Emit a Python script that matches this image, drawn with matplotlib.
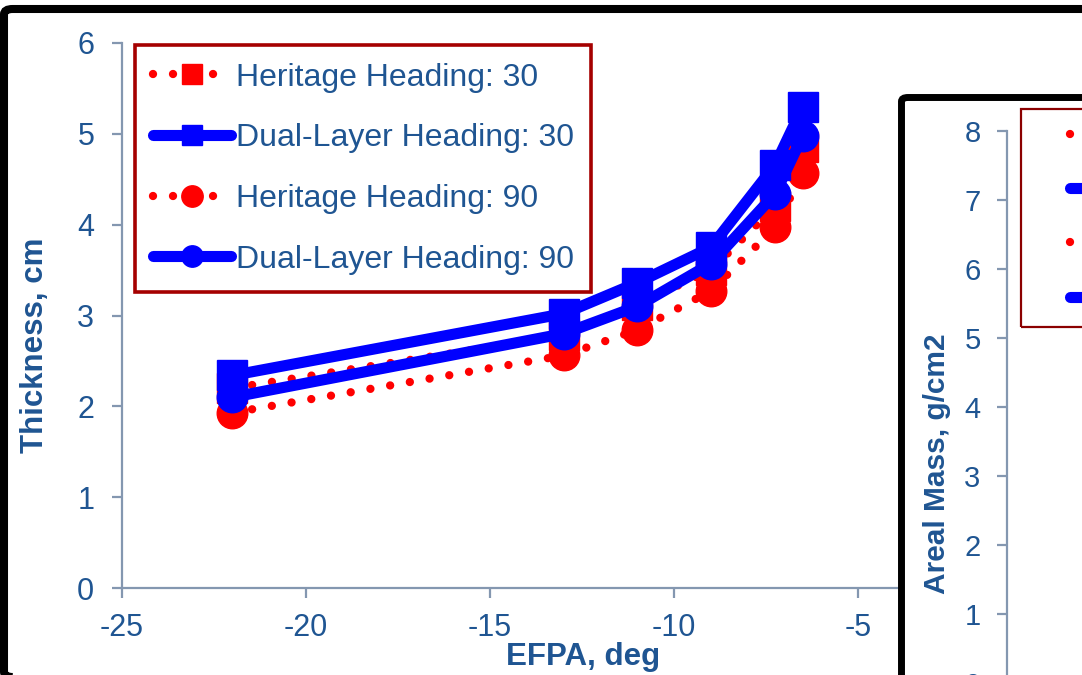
import matplotlib
matplotlib.use('Agg')
import matplotlib.pyplot as plt
from matplotlib.patches import FancyBboxPatch, Rectangle

plt.rcParams['font.family'] = ['Liberation Sans', 'DejaVu Sans']
plt.rcParams['axes.unicode_minus'] = False

# data
efpa = [-22, -13, -11, -9, -7.25, -6.5]
heritage_30 = [2.20, 2.78, 3.12, 3.50, 4.20, 4.85]
dual_30 = [2.34, 3.02, 3.36, 3.75, 4.66, 5.30]
heritage_90 = [1.93, 2.56, 2.84, 3.27, 3.97, 4.57]
dual_90 = [2.10, 2.80, 3.10, 3.57, 4.34, 4.98]
labels = ['Heritage Heading: 30', 'Dual-Layer Heading: 30',
          'Heritage Heading: 90', 'Dual-Layer Heading: 90']
x_ticks = [-25, -20, -15, -10, -5]
y_ticks = [0, 1, 2, 3, 4, 5, 6]
y2_ticks = [0, 1, 2, 3, 4, 5, 6, 7, 8]

TXT = '#1F5592'
AX = '#8497B0'
W, H = 1082, 675


def fx(x):
    return x / W


def fy(y):
    return 1 - y / H


fig = plt.figure(figsize=(10.82, 6.75), dpi=100)

# outer frame of the main chart
fig.patches.append(FancyBboxPatch((fx(4), fy(677)), fx(1110) - fx(4), fy(9) - fy(677),
                                  boxstyle='round,pad=0,rounding_size=0.008',
                                  transform=fig.transFigure, fill=False,
                                  edgecolor='black', lw=5.8, zorder=-1))

ax = fig.add_axes([fx(122), fy(588), (1042 - 122) / W, (588 - 43) / H])

dot = (0, (0.001, 2.4))
l1, = ax.plot(efpa, heritage_30, color='red', lw=6, ls=dot, dash_capstyle='round',
              marker='s', ms=21, zorder=2)
l3, = ax.plot(efpa, heritage_90, color='red', lw=6, ls=dot, dash_capstyle='round',
              marker='o', ms=22, zorder=2)
l2, = ax.plot(efpa, dual_30, color='blue', lw=8, solid_capstyle='round',
              marker='s', ms=21, zorder=3)
l4, = ax.plot(efpa, dual_90, color='blue', lw=8, solid_capstyle='round',
              marker='o', ms=22, zorder=3)

ax.set_xlim(-25, 0)
ax.set_ylim(0, 6)
ax.set_xticks(x_ticks)
ax.set_yticks(y_ticks)
for s in ['top', 'right']:
    ax.spines[s].set_visible(False)
for s in ['left', 'bottom']:
    ax.spines[s].set_color(AX)
    ax.spines[s].set_linewidth(1.6)
ax.tick_params(axis='y', direction='out', length=7, width=1.6, color=AX,
               labelcolor=TXT, labelsize=22, pad=13)
ax.tick_params(axis='x', direction='out', length=7, width=1.6, color=AX,
               labelcolor=TXT, labelsize=22, pad=11)
ax.set_ylabel('Thickness, cm', fontsize=22.5, fontweight='bold', color=TXT)
ax.yaxis.set_label_coords(-0.078, 0.446)
ax.set_xlabel('EFPA, deg', fontsize=22.5, fontweight='bold', color=TXT)
ax.xaxis.set_label_coords(0.501, -0.1)

leg = ax.legend([l1, l2, l3, l4], labels, loc='upper left',
                bbox_to_anchor=((135 - 122) / 920, (588 - 45) / 545),
                borderaxespad=0, fontsize=23, labelcolor=TXT, fancybox=False,
                markerscale=0.7, numpoints=1, handlelength=2.45, handletextpad=0.15,
                borderpad=0.55, labelspacing=0.96, framealpha=1)
leg.get_frame().set_edgecolor('#A50000')
leg.get_frame().set_linewidth(2.6)

# second chart lying over the right side
fig.patches.append(FancyBboxPatch((fx(901.5), fy(800)), fx(1300) - fx(901.5), fy(97.5) - fy(800),
                                  boxstyle='round,pad=0,rounding_size=0.006',
                                  transform=fig.transFigure, facecolor='white',
                                  edgecolor='black', lw=5, zorder=1))

ax2 = fig.add_axes([fx(1007), fy(683), 500 / W, (683 - 131) / H], zorder=2)
ax2.set_facecolor('none')
ax2.set_ylim(0, 8)
ax2.set_yticks(y2_ticks)
ax2.set_xticks([])
for s in ['top', 'right', 'bottom']:
    ax2.spines[s].set_visible(False)
ax2.spines['left'].set_color(AX)
ax2.spines['left'].set_linewidth(1.6)
ax2.tick_params(axis='y', direction='out', length=7, width=1.6, color=AX,
                labelcolor=TXT, labelsize=21, pad=12)
ax2.set_ylabel('Areal Mass, g/cm2', fontsize=21.5, fontweight='bold', color=TXT)
ax2.yaxis.set_label_coords(-0.112, 0.397)

fig.patches.append(Rectangle((fx(1021), fy(327)), fx(1300) - fx(1021), fy(109) - fy(327),
                             transform=fig.transFigure, fill=False,
                             edgecolor='#8B0000', lw=1.6, zorder=3))
leg2 = fig.legend([l1, l2, l3, l4], labels, loc='upper left',
                  bbox_to_anchor=(fx(1070), fy(122)), borderaxespad=0, borderpad=0,
                  frameon=False, fontsize=21, labelcolor=TXT, markerscale=0.7,
                  numpoints=1, handlelength=2.7, handletextpad=0.15, labelspacing=0.9)
leg2.set_zorder(4)

fig.savefig('out.png', dpi=100)
